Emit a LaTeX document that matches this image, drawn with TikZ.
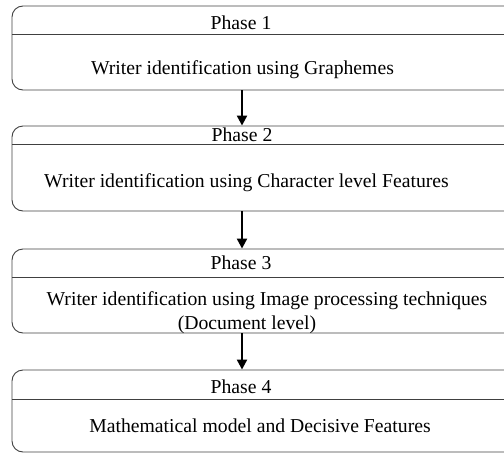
\documentclass[tikz,border=0pt]{standalone}
\usepackage{fontspec}
\setmainfont{Liberation Serif}
\usetikzlibrary{arrows.meta}
\begin{document}
\begin{tikzpicture}[x=1pt,y=-1pt,
  phasebox/.style={draw=black!75, line width=0.9pt, rounded corners=11pt, inner sep=0pt, minimum width=508pt},
  divline/.style={draw=black!75, line width=0.9pt},
  txt/.style={anchor=base, inner sep=0pt, font=\fontsize{19.7}{23}\selectfont},
  arr/.style={draw=black, line width=2.2pt, -{Triangle[length=10pt,width=10pt]}}]
\useasboundingbox (0,0) rectangle (504,453);
\clip (0,0) rectangle (504,453);
% boxes
\node[phasebox, minimum height=84pt] (b1) at (266,48) {};
\node[phasebox, minimum height=85pt] (b2) at (266,168.5) {};
\node[phasebox, minimum height=84pt] (b3) at (266,291) {};
\node[phasebox, minimum height=82pt] (b4) at (266,411) {};
% dividers
\draw[divline] (12,34) -- (520,34);
\draw[divline] (12,144) -- (520,144);
\draw[divline] (12,277) -- (520,277);
\draw[divline] (12,399) -- (520,399);
% labels
\node[txt] (p1) at (241,29) {Phase 1};
\node[txt] (t1) at (242.5,74) {Writer identification using Graphemes};
\node[txt] (p2) at (242,141) {Phase 2};
\node[txt] (t2) at (246.5,187) {Writer identification using Character level Features};
\node[txt] (p3) at (241,269) {Phase 3};
\node[txt] (t3a) at (267,305) {Writer identification using Image processing techniques};
\node[txt] (t3b) at (247,329) {(Document level)};
\node[txt] (p4) at (241,393) {Phase 4};
\node[txt] (t4) at (260,432) {Mathematical model and Decisive Features};
% arrows
\draw[arr] (b1.south -| 242,0) -- (b2.north -| 242,0);
\draw[arr] (b2.south -| 242,0) -- (b3.north -| 242,0);
\draw[arr] (b3.south -| 242,0) -- (b4.north -| 242,0);
\end{tikzpicture}
\end{document}
